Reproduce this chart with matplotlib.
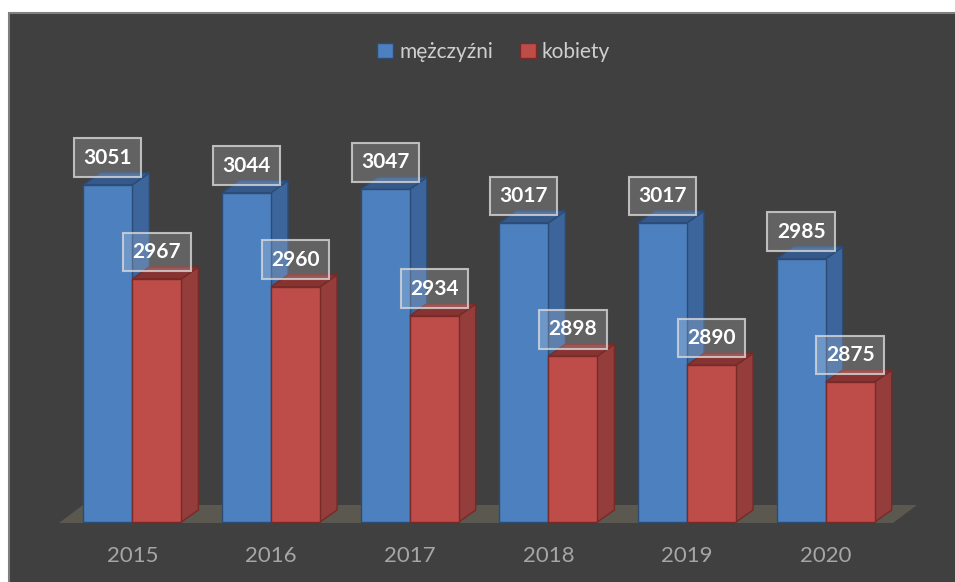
import matplotlib
matplotlib.use("Agg")
import matplotlib.pyplot as plt
from matplotlib.patches import Polygon, Rectangle, Patch
from matplotlib.transforms import IdentityTransform
import numpy as np

plt.rcParams['font.family'] = ['Lato', 'DejaVu Sans']

years = ['2015', '2016', '2017', '2018', '2019', '2020']
men = [3051, 3044, 3047, 3017, 3017, 2985]
women = [2967, 2960, 2934, 2898, 2890, 2875]

blue = dict(front='#4d80be', side='#3c659c', top='#34598a', edge='#2c4b75')
red = dict(front='#be4d4a', side='#943d3b', top='#873331', edge='#772a28')

ymin, ymax = 2750, 3100
w = 0.3535
DX, DY = 17, 12

fig = plt.figure(figsize=(9.55, 5.82), dpi=100)
fig.patches.append(Rectangle((9 / 955, -0.01), 1.0, 1 - 13 / 582 + 0.01,
                             transform=fig.transFigure, fc='#404040',
                             ec='#7f7f7f', lw=1.5, zorder=-5))

ax = fig.add_axes([63 / 955, 60 / 582, 832 / 955, 392 / 582])
ax.set_xlim(-0.5, 5.5)
ax.set_ylim(ymin, ymax)
ax.patch.set_visible(False)
for s in ax.spines.values():
    s.set_visible(False)
x = np.arange(len(years))
ax.set_yticks([])
ax.set_xticks(x)
ax.set_xticklabels(years)
ax.tick_params(axis='x', length=0, pad=17, labelsize=16, labelcolor='#a6a6a6')

# floor
(fx0, fy0), (fx1, _) = ax.transAxes.transform([(0, 0), (1, 0)])
floor = [(fx0 - 4, fy0 - 1), (fx1 - 2, fy0 - 1), (fx1 + 22, fy0 + 17), (fx0 + 20, fy0 + 17)]
ax.add_patch(Polygon(floor, closed=True, fc='#5a584f', ec='none',
                     transform=IdentityTransform(), clip_on=False, zorder=1))


def bar3d(x0, x1, v, c):
    (px0, py0), (px1, py1) = ax.transData.transform([(x0, ymin), (x1, v)])
    faces = [
        ([(px1, py0), (px1 + DX, py0 + DY), (px1 + DX, py1 + DY), (px1, py1)], c['side']),
        ([(px0, py1), (px1, py1), (px1 + DX, py1 + DY), (px0 + DX, py1 + DY)], c['top']),
        ([(px0, py0), (px1, py0), (px1, py1), (px0, py1)], c['front']),
    ]
    for pts, col in faces:
        ax.add_patch(Polygon(pts, closed=True, fc=col, ec=c['edge'], lw=1.0,
                             transform=IdentityTransform(), clip_on=False, zorder=2))


def label(xc, v):
    ax.annotate(str(v), xy=(xc, v), xytext=(0, 19.5), textcoords='offset points',
                ha='center', va='center', fontsize=15, fontweight='bold',
                color='white', zorder=10, annotation_clip=False,
                bbox=dict(boxstyle='square,pad=0.45', fc=(1, 1, 1, 0.18),
                          ec=(0.85, 0.85, 0.85, 0.8), lw=1.5))


for i in x:
    bar3d(i - w, i, men[i], blue)
    bar3d(i, i + w, women[i], red)
for i in x:
    label(i - w / 2, men[i])
    label(i + w / 2, women[i])

handles = [Patch(fc=blue['front'], ec=blue['edge'], label='mężczyźni'),
           Patch(fc=red['front'], ec=red['edge'], label='kobiety')]
fig.legend(handles=handles, loc='center', bbox_to_anchor=(0.517, 1 - 52 / 582),
           ncol=2, frameon=False, fontsize=15, labelcolor='#cfcfcf',
           handlelength=0.75, handleheight=0.75, handletextpad=0.3,
           columnspacing=1.3)

fig.savefig('out.png', dpi=100, facecolor='white')
